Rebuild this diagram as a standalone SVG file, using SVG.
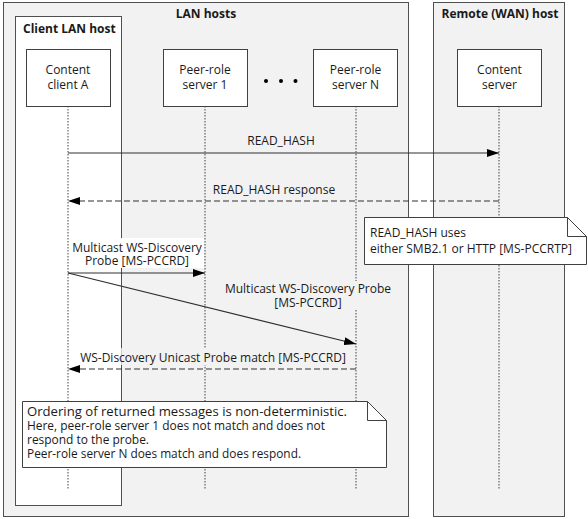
<svg xmlns="http://www.w3.org/2000/svg" width="588" height="519" viewBox="0 0 588 519">
<style>
text{font-family:"Open Sans","Noto Sans","DejaVu Sans",sans-serif;font-size:12px;fill:#1a1a1a}
.t{font-weight:bold}
.c{text-anchor:middle}
.n{font-size:12.5px}
.host{fill:#f2f2f2;stroke:#505050;stroke-width:1}
.inner{fill:#ffffff;stroke:#505050;stroke-width:1}
.node{fill:#ffffff;stroke:#404040;stroke-width:1}
.life{stroke:#404040;stroke-width:1;stroke-dasharray:1.5,1.5;fill:none}
.msg{stroke:#303030;stroke-width:1.2;fill:none}
.dash{stroke-dasharray:6,3}
.note{fill:#ffffff;stroke:#404040;stroke-width:1}
</style>
<defs>
<marker id="ah" viewBox="0 0 12 8" refX="12" refY="4" markerWidth="12" markerHeight="8" markerUnits="userSpaceOnUse" orient="auto">
<path d="M0,0 L12,4 L0,8 Z" fill="#000"/>
</marker>
</defs>
<rect width="588" height="519" fill="#ffffff"/>
<g id="lan-hosts">
<rect class="host" x="3.5" y="2.5" width="405" height="514"/>
<text class="t c" x="206" y="18">LAN hosts</text>
</g>
<g id="wan-host">
<rect class="host" x="433.5" y="2.5" width="131" height="514"/>
<text class="t c" x="500" y="18">Remote (WAN) host</text>
</g>
<g id="client-lan-host">
<rect class="inner" x="15.5" y="16.5" width="106" height="489"/>
<text class="t" x="23" y="33">Client LAN host</text>
</g>
<g id="lifelines">
<line class="life" x1="68" y1="106" x2="68" y2="489"/>
<line class="life" x1="205" y1="106" x2="205" y2="489"/>
<line class="life" x1="356" y1="106" x2="356" y2="489"/>
<line class="life" x1="499" y1="106" x2="499" y2="489"/>
</g>
<g id="content-client-a">
<rect class="node" x="26.5" y="49.5" width="84" height="57"/>
<text class="c" x="68" y="74">Content</text>
<text class="c" x="68" y="89">client A</text>
</g>
<g id="peer-server-1">
<rect class="node" x="163.5" y="49.5" width="84" height="57"/>
<text class="c" x="205" y="74">Peer-role</text>
<text class="c" x="205" y="89">server 1</text>
</g>
<g id="ellipsis">
<circle cx="266" cy="81" r="2" fill="#000"/>
<circle cx="281" cy="81" r="2" fill="#000"/>
<circle cx="295.5" cy="81" r="2" fill="#000"/>
</g>
<g id="peer-server-n">
<rect class="node" x="313.5" y="49.5" width="84" height="57"/>
<text class="c" x="355.5" y="74">Peer-role</text>
<text class="c" x="355.5" y="89">server N</text>
</g>
<g id="content-server">
<rect class="node" x="457.5" y="49.5" width="84" height="57"/>
<text class="c" x="499.5" y="74">Content</text>
<text class="c" x="499.5" y="89">server</text>
</g>
<g id="connectors">
<line class="msg" x1="68" y1="153" x2="499" y2="153" marker-end="url(#ah)"/>
<text class="c" x="281" y="145">READ_HASH</text>
<line class="msg dash" x1="499" y1="201" x2="68" y2="201" marker-end="url(#ah)"/>
<text class="c" x="274" y="194">READ_HASH response</text>
<rect x="70" y="238" width="134" height="30" fill="#ffffff"/>
<text class="c" x="137" y="252">Multicast WS-Discovery</text>
<text class="c" x="137" y="265">Probe [MS-PCCRD]</text>
<line class="msg" x1="68" y1="273" x2="205" y2="273" marker-end="url(#ah)"/>
<line class="msg" x1="68" y1="273" x2="356" y2="344" marker-end="url(#ah)"/>
<rect x="224" y="281" width="170" height="29" fill="#f2f2f2"/>
<text class="c" x="308" y="293">Multicast WS-Discovery Probe</text>
<text class="c" x="308" y="307">[MS-PCCRD]</text>
<rect x="78" y="348" width="43.5" height="17" fill="#ffffff"/>
<rect x="121.5" y="348" width="228" height="17" fill="#f2f2f2"/>
<text class="c" x="213" y="362">WS-Discovery Unicast Probe match [MS-PCCRD]</text>
<line class="msg dash" x1="356" y1="369" x2="68" y2="369" marker-end="url(#ah)"/>
</g>
<g id="note-read-hash">
<path class="note" d="M364.5,217.5 H567.5 L586.5,236.5 V264.5 H364.5 Z"/>
<path d="M567.5,217.5 V236.5 H586.5" fill="none" stroke="#404040" stroke-width="1"/>
<text class="n" x="370" y="237" textLength="96" lengthAdjust="spacingAndGlyphs">READ_HASH uses</text>
<text class="n" x="370" y="253" textLength="202" lengthAdjust="spacingAndGlyphs">either SMB2.1 or HTTP [MS-PCCRTP]</text>
</g>
<g id="note-ordering">
<path class="note" d="M22.5,401.5 H367.5 L386.5,420.5 V467.5 H22.5 Z"/>
<path d="M367.5,401.5 V420.5 H386.5" fill="none" stroke="#404040" stroke-width="1"/>
<text class="n" x="27" y="416" textLength="320" lengthAdjust="spacingAndGlyphs">Ordering of returned messages is non-deterministic.</text>
<text class="n" x="27" y="430" textLength="298" lengthAdjust="spacingAndGlyphs">Here, peer-role server 1 does not match and does not</text>
<text class="n" x="27" y="444" textLength="122" lengthAdjust="spacingAndGlyphs">respond to the probe.</text>
<text class="n" x="27" y="458" textLength="274" lengthAdjust="spacingAndGlyphs">Peer-role server N does match and does respond.</text>
</g>
</svg>
